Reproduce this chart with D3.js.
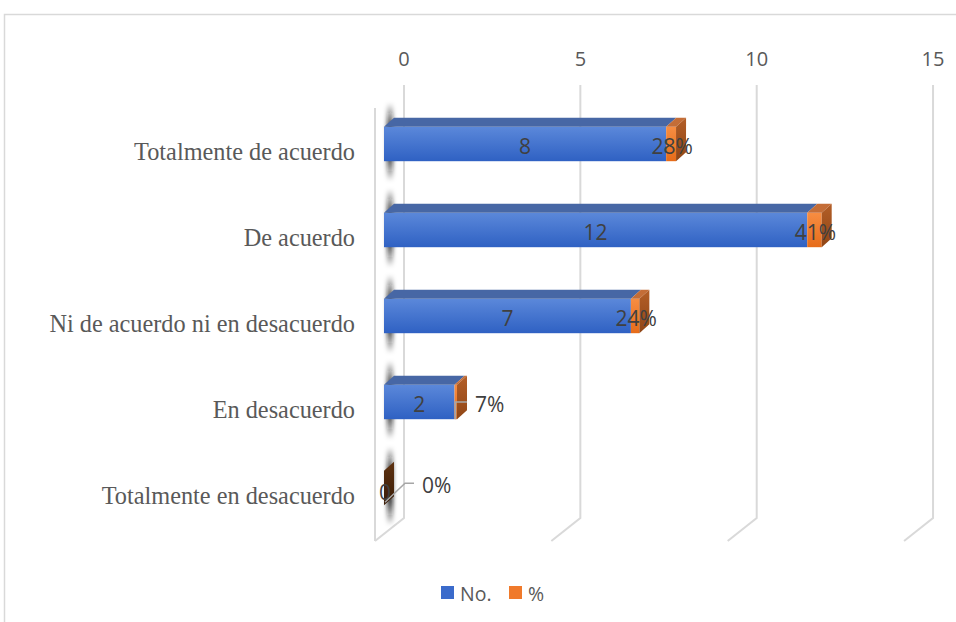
<!DOCTYPE html>
<html>
<head>
<meta charset="utf-8">
<script src="https://cdn.jsdelivr.net/npm/d3@7/dist/d3.min.js"></script>
<style>
  html, body { margin: 0; padding: 0; background: #fff; }
  svg { display: block; }
</style>
</head>
<body>
<svg id="chart" width="956" height="622"></svg>
<script>
// Survey answers: count of respondents and share of total
const categories = [
  "Totalmente de acuerdo",
  "De acuerdo",
  "Ni de acuerdo ni en desacuerdo",
  "En desacuerdo",
  "Totalmente en desacuerdo"
];
const counts   = [8, 12, 7, 2, 0];
const percents = [0.28, 0.41, 0.24, 0.07, 0];
const tickValues = [0, 5, 10, 15];
const seriesNames = ["No.", "%"];

const svg = d3.select("#chart");
const defs = svg.append("defs");

// colours
const C = {
  grid: "#d9d9d9",
  text: "#595959",
  label: "#404040",
  blueTop: "#4767a5",
  orangeTop: "#c46d37",
  legendBlue: "#3b6bcb",
  legendOrange: "#f07a2b"
};

function vGrad(id, stops) {
  const g = defs.append("linearGradient").attr("id", id)
    .attr("x1", 0).attr("y1", 0).attr("x2", 0).attr("y2", 1);
  stops.forEach(([o, c, a]) => g.append("stop").attr("offset", o).attr("stop-color", c)
    .attr("stop-opacity", a === undefined ? 1 : a));
}
vGrad("blueFront", [[0, "#5b88da"], [1, "#2f61c3"]]);
vGrad("orangeFront", [[0, "#f78d42"], [1, "#e66c1a"]]);
vGrad("orangeSide", [[0, "#b35e27"], [1, "#904616"]]);
vGrad("zeroSide", [[0, "#5e3211"], [1, "#3a1c07"]]);
// wall shadow: dark next to the bar, fading away above and below
vGrad("shadowFade", [[0, "#111", 0], [0.3, "#111", 0.85], [0.7, "#111", 0.85], [1, "#111", 0]]);

defs.append("filter").attr("id", "soft")
  .attr("x", "-200%").attr("y", "-50%").attr("width", "500%").attr("height", "200%")
  .append("feGaussianBlur").attr("stdDeviation", 2.2);

// outer chart frame
svg.append("path")
  .attr("d", "M4.5,622 V14.5 H956")
  .attr("fill", "none").attr("stroke", C.grid).attr("stroke-width", 1.5);

// scales: x on the bars' front plane, bands for the categories
const x = d3.scaleLinear().domain([0, 15]).range([384, 384 + 15 * 35.27]);
const y = d3.scaleBand().domain(categories).range([101, 531]).paddingInner(0.6).paddingOuter(0.3);

// 3-D depth offsets
const bar3d = { dx: 10, dy: -9 };     // bar thickness
const backOff = { dx: 20, dy: -16 };  // bar front plane -> back wall
const frontOff = -9;                   // bar front plane -> floor front edge
const wallTop = 85, wallBottom = 518, floorFront = 541;

// back-wall gridlines and floor lines
const grid = svg.append("g").attr("fill", "none").attr("stroke", C.grid).attr("stroke-width", 2);
tickValues.forEach(v => {
  const xb = x(v) + backOff.dx;
  const xf = x(v) + frontOff;
  grid.append("path").attr("d", `M${xb},${wallTop} V${wallBottom} L${xf},${floorFront}`);
});
// front edge of the side wall
grid.append("path").attr("d", `M${x(0) + frontOff},${wallTop + 23} V${floorFront}`);

// tick labels on top of the back wall
svg.append("g").selectAll("text").data(tickValues).join("text")
  .attr("x", v => x(v) + backOff.dx)
  .attr("y", 58)
  .attr("text-anchor", "middle")
  .attr("dominant-baseline", "central")
  .attr("font-family", "'Open Sans', sans-serif")
  .attr("font-size", 20)
  .attr("fill", C.text)
  .text(d => d);

// category labels
svg.append("g").selectAll("text").data(categories).join("text")
  .attr("x", 355)
  .attr("y", d => y(d) + y.bandwidth() / 2 + 7)
  .attr("text-anchor", "end")
  .attr("dominant-baseline", "central")
  .attr("font-family", "'Liberation Serif', 'Times New Roman', serif")
  .attr("font-size", 24.3)
  .attr("fill", C.text)
  .text(d => d);

const rows = categories.map((c, i) => ({ c, n: counts[i], p: percents[i] }));
const bars = svg.append("g");

function box(g, x0, x1, y0, h, front, top, side) {
  const { dx, dy } = bar3d;
  if (x1 > x0) {
    g.append("rect").attr("x", x0).attr("y", y0).attr("width", x1 - x0).attr("height", h).attr("fill", front);
    g.append("path").attr("d", `M${x0},${y0} L${x0 + dx},${y0 + dy} L${x1 + dx},${y0 + dy} L${x1},${y0} Z`).attr("fill", top);
  }
  if (side) {
    g.append("path").attr("d", `M${x1},${y0} L${x1 + dx},${y0 + dy} L${x1 + dx},${y0 + dy + h} L${x1},${y0 + h} Z`).attr("fill", side);
  }
}

rows.forEach(r => {
  const g = bars.append("g");
  const y0 = y(r.c), h = y.bandwidth();
  // soft shadow cast on the side wall
  g.append("rect")
    .attr("x", x(0) + 3).attr("y", y0 - 24).attr("width", 6).attr("height", h + 44)
    .attr("fill", "url(#shadowFade)").attr("filter", "url(#soft)");
  const xa = x(0), xb = x(r.n), xc = x(r.n + r.p);
  box(g, xa, xb, y0, h, "url(#blueFront)", C.blueTop, null);
  box(g, xb, xc, y0, h, "url(#orangeFront)", C.orangeTop,
      (r.n + r.p) > 0 ? "url(#orangeSide)" : "url(#zeroSide)");
});

// data labels
const lab = svg.append("g")
  .attr("font-family", "'Open Sans', sans-serif")
  .attr("font-size", 21)
  .attr("fill", C.label)
  .attr("dominant-baseline", "central");

rows.forEach(r => {
  const cy = y(r.c) + y.bandwidth() / 2 + 2;
  const xa = x(0), xb = x(r.n), xc = x(r.n + r.p);
  lab.append("text")
    .attr("x", r.n > 0 ? (xa + xb) / 2 : xa + 1)
    .attr("y", r.n > 0 ? cy : cy + 2)
    .attr("text-anchor", "middle")
    .text(r.n);
  const pct = d3.format(".0%")(r.p);
  if (r.p >= 0.1) {
    lab.append("text").attr("x", (xb + xc) / 2 + 1).attr("y", cy).attr("text-anchor", "middle").text(pct);
  } else if (r.p > 0) {
    svg.append("path")
      .attr("d", `M${xb + 1},${y(r.c) + y.bandwidth()} V${cy - 2} H${xc + 10}`)
      .attr("fill", "none").attr("stroke", "#a6a6a6").attr("stroke-width", 1.5);
    lab.append("text").attr("x", xc + 18).attr("y", cy).text(pct);
  } else {
    const yb = y(r.c) + y.bandwidth();
    svg.append("path")
      .attr("d", `M${xa + 1},${yb - 3} L${xa + 21},${yb - 22} H${xa + 30}`)
      .attr("fill", "none").attr("stroke", "#a6a6a6").attr("stroke-width", 1.5);
    lab.append("text").attr("x", xa + 38).attr("y", yb - 20).text(pct);
  }
});

// legend
const legend = svg.append("g").attr("transform", "translate(441,586)");
const legendColors = [C.legendBlue, C.legendOrange];
const legendX = [0, 68];
seriesNames.forEach((s, i) => {
  const g = legend.append("g").attr("transform", `translate(${legendX[i]},0)`);
  g.append("rect").attr("width", 13).attr("height", 13).attr("fill", legendColors[i]);
  g.append("text").attr("x", 19).attr("y", 7)
    .attr("dominant-baseline", "central")
    .attr("font-family", "'Open Sans', sans-serif")
    .attr("font-size", 19.5)
    .attr("fill", C.text)
    .text(s);
});
</script>
</body>
</html>
